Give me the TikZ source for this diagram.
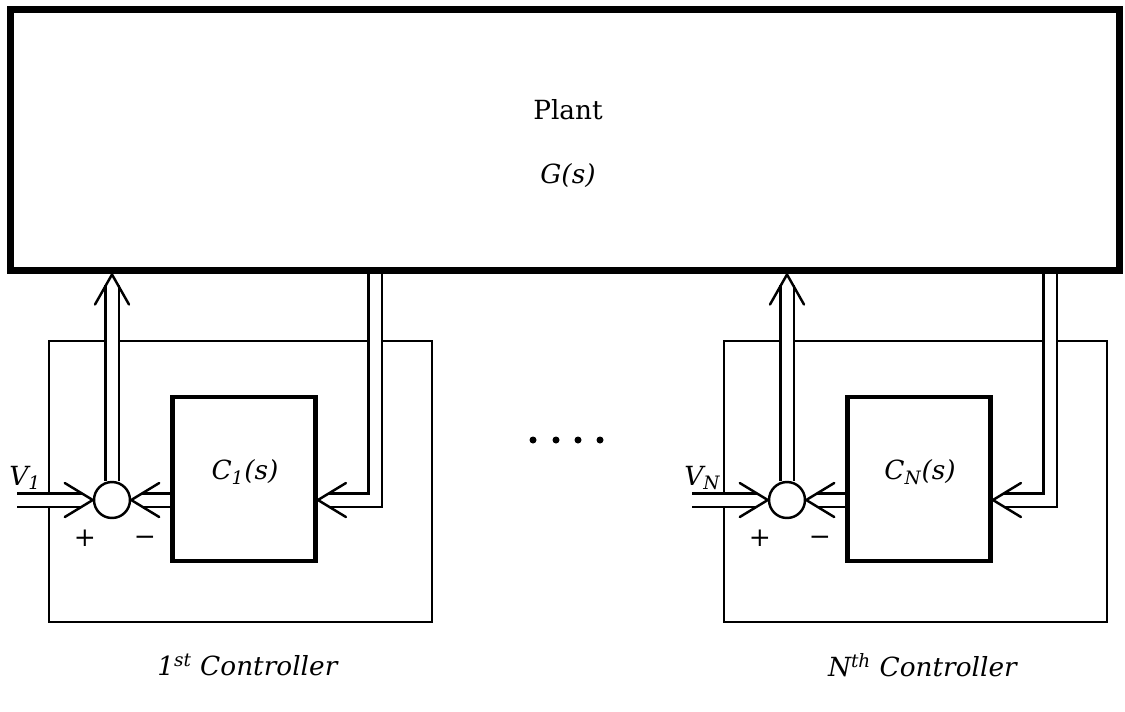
\documentclass[tikz,border=0pt]{standalone}
\usepackage{fontspec}
\setmainfont{DejaVu Serif}
\usepackage{tikz}
\usetikzlibrary{positioning, calc, backgrounds}
\tikzset{
    plantbox/.style={rectangle, draw, line width=4pt, fill=white,
                     minimum width=22.2cm, minimum height=5.24cm},
    ctrlbox/.style={rectangle, draw, line width=1.6pt,
                    minimum width=7.66cm, minimum height=5.62cm},
    cblock/.style={rectangle, draw, line width=2.8pt, fill=white,
                   minimum width=2.86cm, minimum height=3.28cm},
    sumnode/.style={circle, draw, line width=1.4pt, fill=white,
                    minimum size=0.72cm, inner sep=0pt},
    pipe/.style={double, line width=1.4pt, double distance=0.22cm, shorten >=0.22cm},
    chev/.style={line width=1.4pt, line cap=round},
    lbl/.style={font=\fontsize{15}{18}\selectfont, inner sep=0pt}
}

\begin{document}
\begin{tikzpicture}[x=0.02cm, y=-0.02cm]
    \useasboundingbox (0,0) rectangle (1125,711);
    \node[plantbox] (plant) at (565,140) {};
    \node[lbl] (plantname) at (568,110) {Plant};
    \node[lbl] (plantfn) at (568,176) {\textit{G(s)}};
    \foreach \k/\dx/\ord in {1/0/{1\textsuperscript{st}}, N/675/{N\textsuperscript{th}}} {
        \node[cblock] (C\k) at (\dx+244,479) {};
        \node[lbl] (Clbl\k) at (\dx+245,472) {\textit{C\textsubscript{\k}(s)}};
        \node[sumnode] (sum\k) at (\dx+112,500) {};
        \coordinate (in\k) at (\dx+17,500);
        \coordinate (fb\k) at (\dx+375,500);
        \node[lbl, anchor=base west] (V\k) at (\dx+9,485) {\textit{V\textsubscript{\k}}};
        \node[lbl] (plus\k) at (\dx+85,538) {+};
        \node[lbl] (minus\k) at (\dx+145,541) {−};
        \node[lbl] (title\k) at (\dx+248,665) {\textit{\ord\ Controller}};
        \begin{scope}[on background layer]
            \node[ctrlbox] (box\k) at (\dx+240.5,481.5) {};
            \draw[pipe] (sum\k) -- (sum\k |- plant.south);
            \draw[pipe] (fb\k |- plant.south) -- (fb\k) -- (fb\k -| C\k.east);
            \draw[pipe] (C\k.west |- sum\k) -- (sum\k);
            \draw[pipe] (in\k) -- (sum\k);
        \end{scope}
        % open heads
        \draw[chev] ($(sum\k |- plant.south)+(-17,30)$) -- (sum\k |- plant.south) -- ++(17,30);
        \draw[chev] ($(fb\k -| C\k.east)+(28,-17)$) -- (fb\k -| C\k.east) -- ++(28,17);
        \draw[chev] ($(sum\k.east)+(28,-17)$) -- (sum\k.east) -- ++(28,17);
        \draw[chev] ($(sum\k.west)+(-28,-17)$) -- (sum\k.west) -- ++(-28,17);
    }
    \foreach \x in {533,556,578,600}
        \fill (\x,440) circle[radius=0.07cm];
\end{tikzpicture}
\end{document}
